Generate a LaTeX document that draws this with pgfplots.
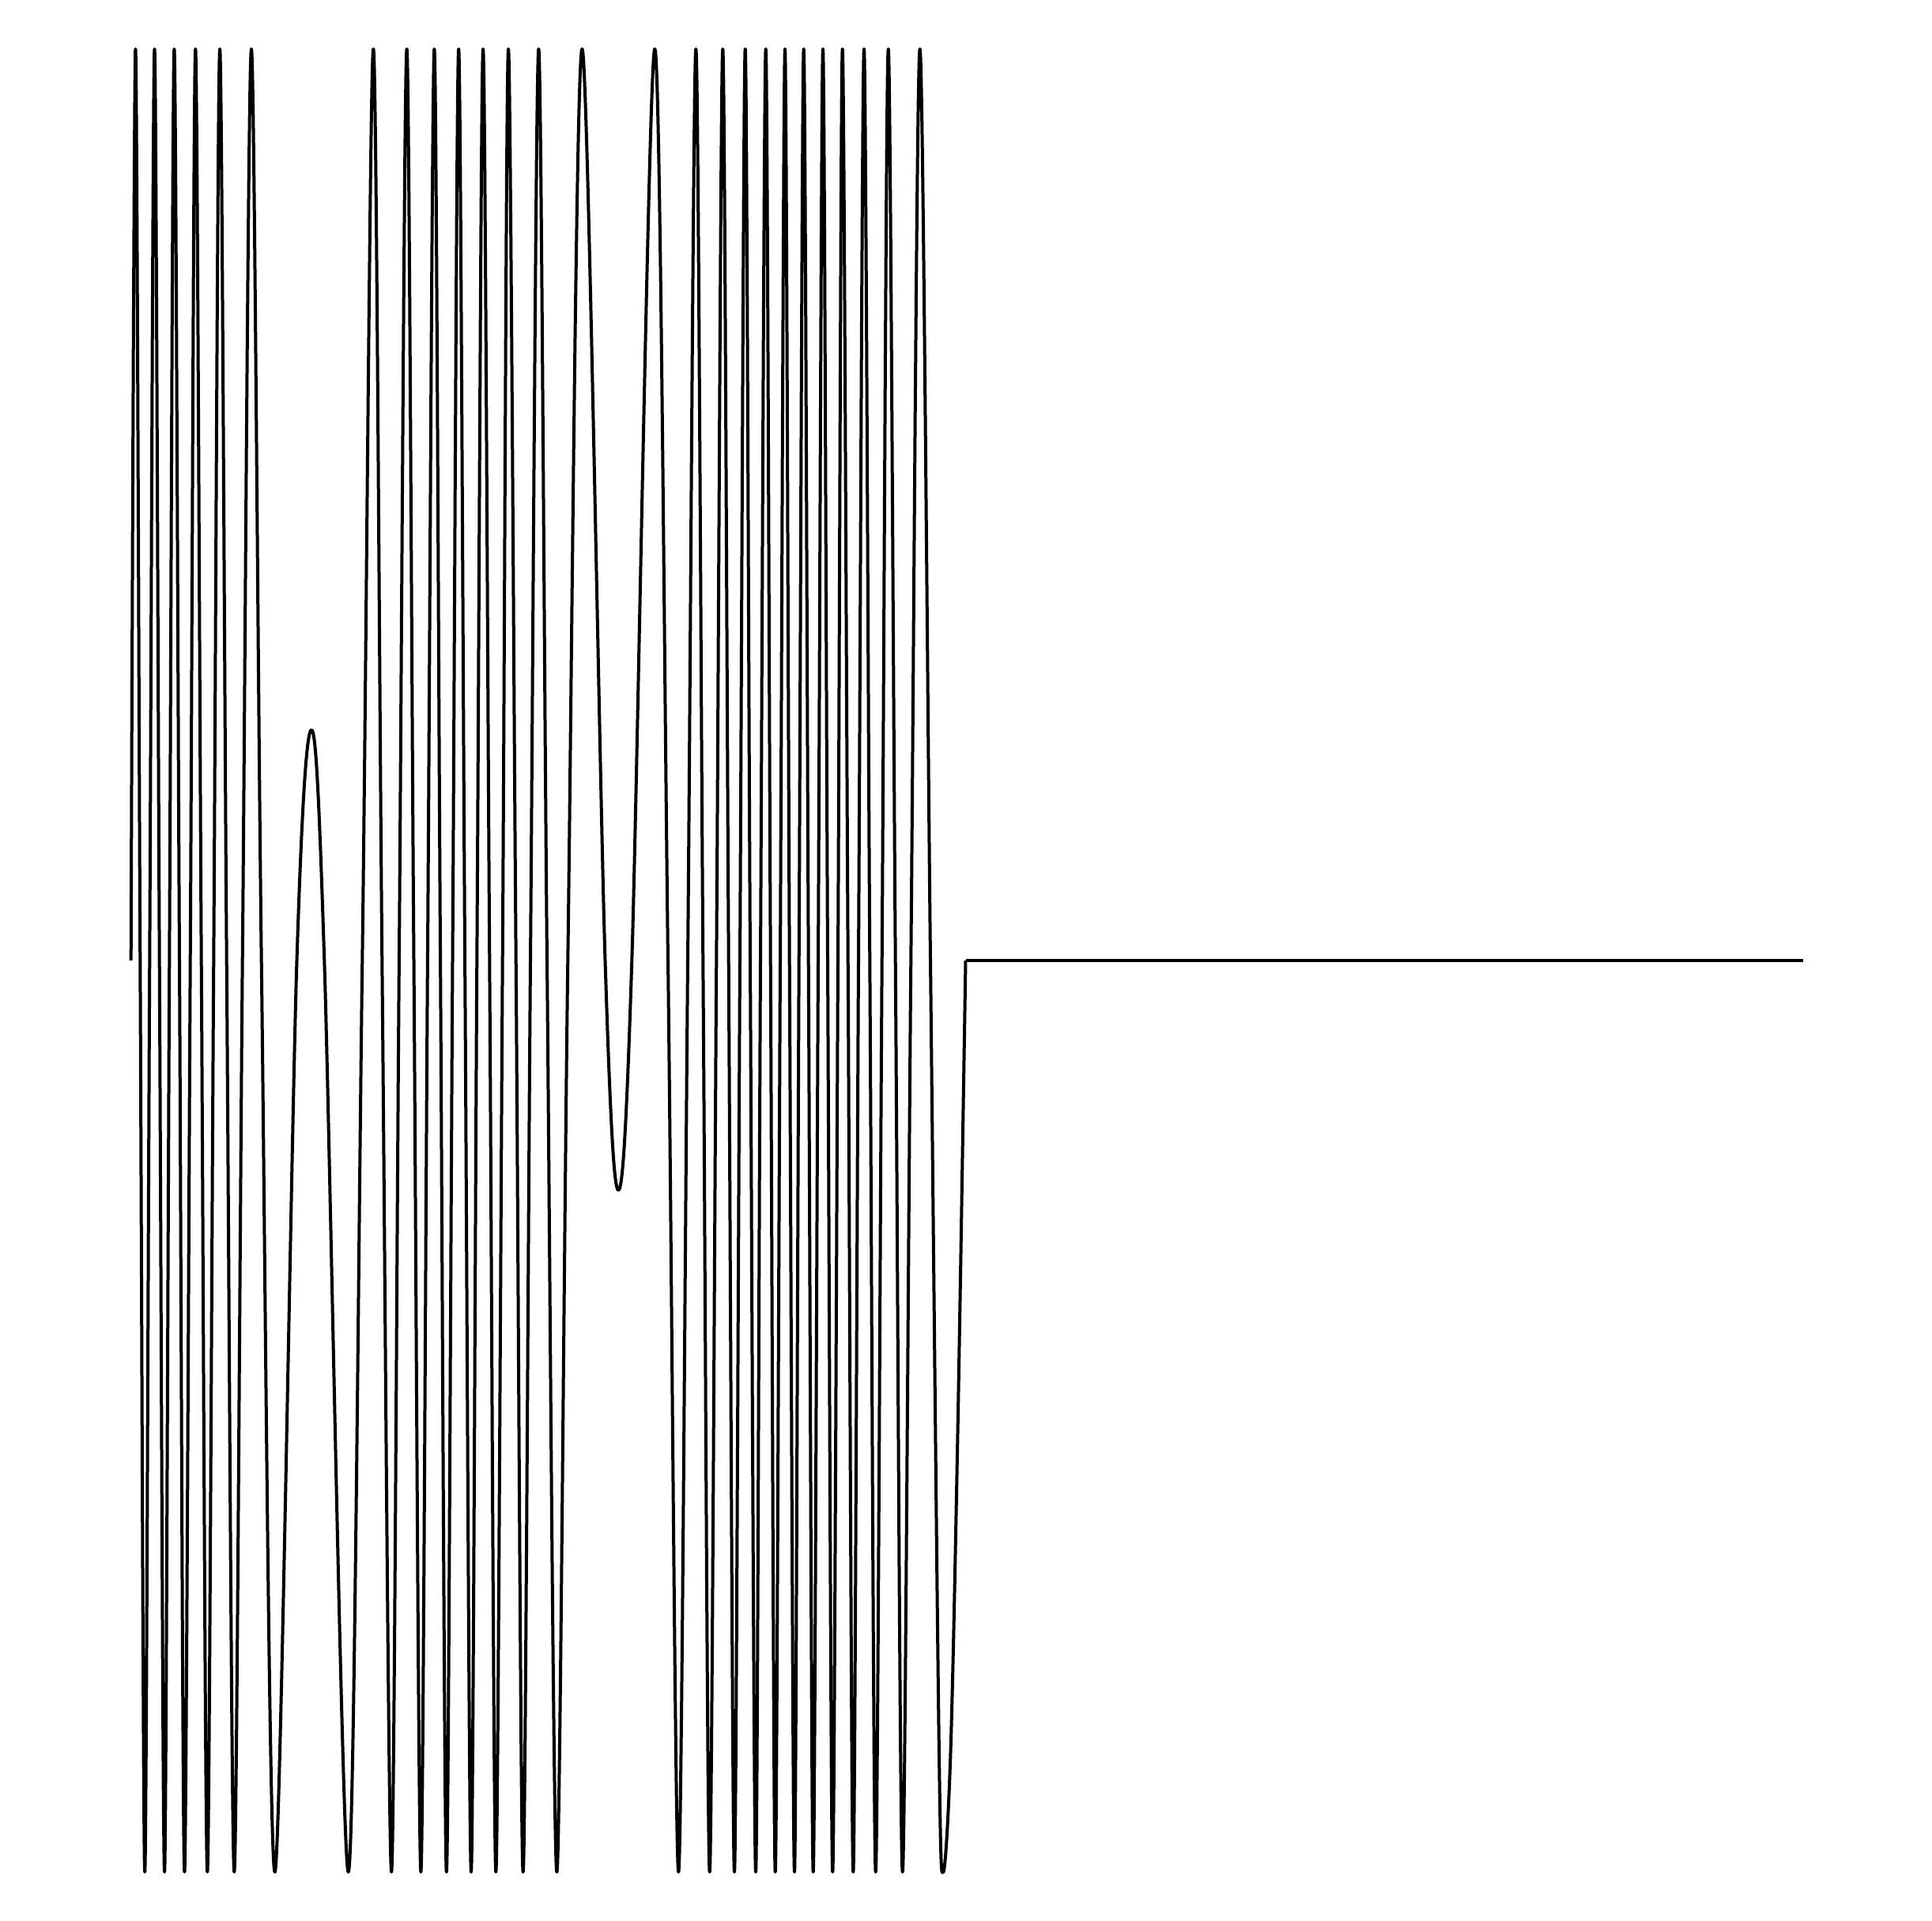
\documentclass[border=0pt]{standalone}
\usepackage{pgfplots}
\pgfplotsset{compat=1.18}
\begin{document}
\begin{tikzpicture}
\begin{axis}[
  width=488.8pt, height=486pt, scale only axis,
  xmin=0, xmax=2444, ymin=-1.0538, ymax=1.0538,
  hide axis,
]
\path (rel axis cs:0,0) rectangle (rel axis cs:1,1);
\addplot[black, line width=0.8pt, line join=round, smooth, tension=0.55] coordinates {
(165.7,0) (171.4,1) (177.3,0) (183.2,-1) (189.3,0) (195.5,1) (201.7,0)
(208.1,-1) (214.3,0) (220.4,1) (227.0,0) (233.4,-1) (240.7,0) (247.3,1)
(254.7,0) (262.3,-1) (270.3,0) (278.1,1) (286.7,0) (296.3,-1) (306.7,0)
(318.0,1) (330.7,0) (347.7,-1) (375.5,0) (394.0,0.253) (410.3,0)
(440.6,-1) (458.3,0) (472.3,1) (483.3,0) (495.2,-1) (504.9,0) (514.6,1)
(523.5,0) (532.4,-1) (540.9,0) (549.4,1) (557.1,0) (564.8,-1) (572.5,0)
(580.2,1) (588.1,0) (596.0,-1) (603.3,0) (611.1,1) (619.3,0) (627.3,-1)
(635.7,0) (643.1,1) (652.7,0) (661.7,-1) (671.0,0) (681.4,1) (692.0,0)
(704.4,-1) (718.3,0) (736.4,1) (765.5,0) (782.3,-0.252) (799.3,0)
(828.3,1) (845.0,0) (858.3,-1) (870.0,0) (880.3,1) (889.3,0) (897.7,-1)
(906.3,0) (914.3,1) (921.7,0) (929.0,-1) (936.0,0) (942.7,1) (949.0,0)
(956.0,-1) (962.0,0) (968.7,1) (974.7,0) (980.7,-1) (987.0,0) (993.0,1)
(998.7,0) (1005.0,-1) (1010.7,0) (1016.7,1) (1022.7,0) (1028.7,-1)
(1035.0,0) (1041.0,1) (1047.0,0) (1053.3,-1) (1060.0,0) (1065.7,1)
(1072.7,0) (1079.3,-1) (1086.0,0) (1093.0,1) (1100.3,0) (1107.7,-1)
(1115.7,0) (1123.7,1) (1132.7,0) (1141.7,-1) (1152.3,0) (1163.7,1)
(1177.0,0) (1187.9,-0.866) (1193.3,-1) (1202.6,-0.866) (1211.9,-0.5) (1221.5,0)
};
\addplot[black, line width=0.8pt] coordinates {
(1221.5,0) (2281.3,0)
};
\end{axis}
\end{tikzpicture}
\end{document}
